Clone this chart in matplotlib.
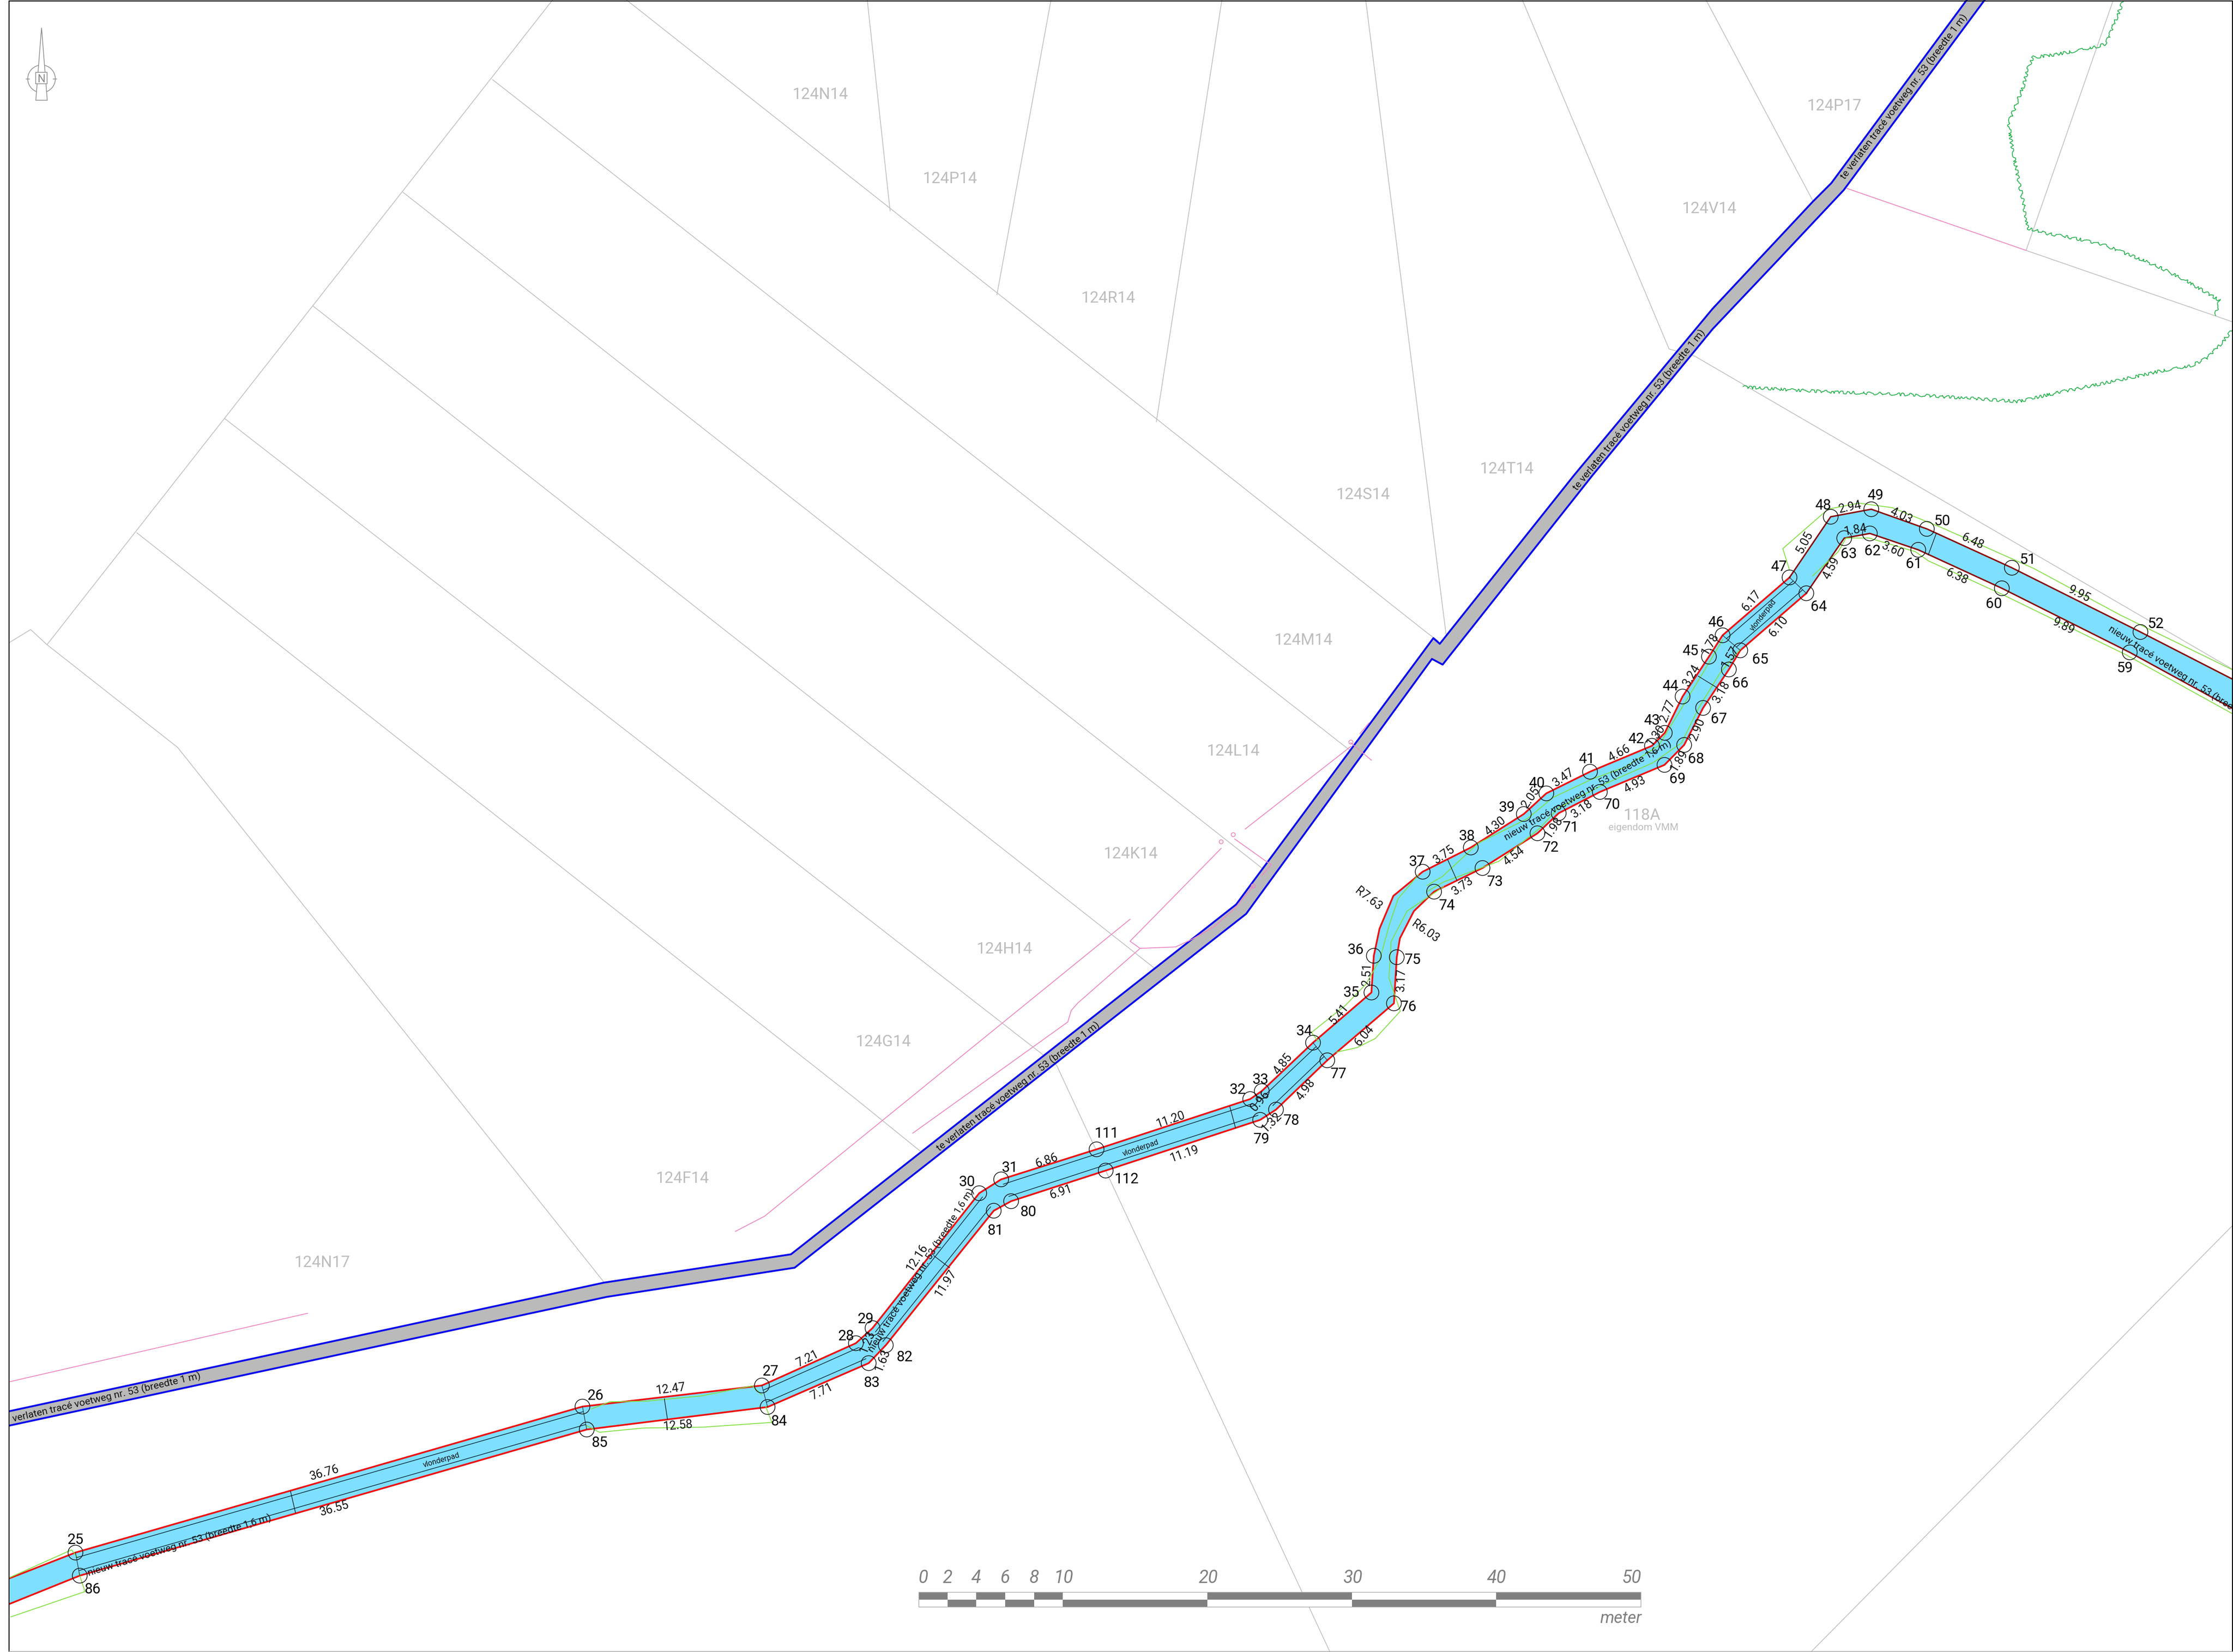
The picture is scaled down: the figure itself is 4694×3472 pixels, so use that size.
import matplotlib
matplotlib.use("Agg")
import matplotlib.pyplot as plt
from matplotlib.patches import Polygon, Circle, Rectangle

plt.rcParams['font.family'] = ['Roboto', 'Noto Sans', 'DejaVu Sans']

W, H = 4694, 3472
K = W / 1568.0

def crop(pts, x0, y0, sx, sy):
    return [((x0 + a / sx) / K, (y0 + b / sy) / K) for a, b in pts]
Z1 = (0, 2700, .784, 2.031)
Z2 = (1800, 1800, 1.045, 1.568)
Z3 = (3000, 1000, .9256, 1.568)
Z6 = (1500, 1450, 1.045, 1.3067)
Z7 = (3600, 0, 1.433, 1.742)
Z5 = (0, 0, 3, 3)

# ---------- new path: node id, x, y ----------
upper_nodes = [('', 6.8, 1108), ('25', 53, 1090), ('26', 409, 987.5), ('27', 535, 972.7), ('28', 601, 943),
               ('29', 612.7, 932.4), ('30', 687.6, 837.7), ('31', 703, 828), ('111', 770, 806.9),
               ('32', 877.9, 771.6), ('33', 886, 766), ('34', 922, 732), ('35', 963, 696.8), ('36', 964.7, 671),
               ('', 968.7, 652), ('', 978.4, 629), ('37', 999, 612), ('38', 1032.8, 595), ('39', 1070, 571.5),
               ('40', 1085.8, 557), ('41', 1116.5, 541.8), ('42', 1160, 523.6), ('43', 1169, 514.5),
               ('44', 1181.5, 489), ('45', 1200, 461), ('46', 1209.6, 446), ('47', 1256.6, 405.4),
               ('48', 1285.5, 362.8), ('49', 1314, 357.5), ('50', 1353, 371.3), ('51', 1412.7, 398.6),
               ('52', 1503, 443.7), ('', 1568, 477)]
lower_nodes = [('', 6.8, 1126), ('86', 56, 1106.2), ('85', 412, 1003.6), ('84', 539, 987.8), ('83', 610, 957),
               ('82', 622, 944.4), ('81', 697.8, 850), ('80', 710, 843.3), ('112', 776.4, 821.8),
               ('79', 884.9, 786.2), ('78', 896, 779), ('77', 932, 744.4), ('76', 978.8, 704.4), ('75', 980.8, 672),
               ('', 983, 658.8), ('', 992.8, 639.7), ('74', 1007, 626), ('73', 1041, 609.4), ('72', 1079.6, 585),
               ('71', 1094.5, 570.9), ('70', 1123.4, 556), ('69', 1168.8, 537), ('68', 1182.6, 523),
               ('67', 1195.9, 497), ('66', 1214, 470), ('65', 1222, 456.6), ('64', 1268.4, 416.5),
               ('63', 1295, 377.8), ('62', 1313, 374.5), ('61', 1347, 386), ('60', 1405.7, 413),
               ('59', 1495.5, 458), ('', 1568, 497.6)]

node_labels = {'25': (53, 1081), '26': (418, 980), '27': (541, 963), '28': (594, 938), '29': (608, 926),
               '30': (679, 830), '31': (709, 820), '111': (777, 796), '32': (869, 765), '33': (885, 758),
               '34': (916, 724), '35': (949, 697), '36': (952, 667), '37': (995, 605), '38': (1030, 587),
               '39': (1058, 567), '40': (1079, 550), '41': (1114, 533), '42': (1149, 519), '43': (1160, 506),
               '44': (1173, 482), '45': (1187, 457), '46': (1205, 437), '47': (1249, 398), '48': (1280, 355),
               '49': (1317, 348), '50': (1364, 366), '51': (1424, 393), '52': (1514, 438), '59': (1492, 469),
               '60': (1400, 424), '61': (1344, 396), '62': (1315, 387), '63': (1298, 389), '64': (1277, 426),
               '65': (1236, 463), '66': (1222, 480), '67': (1207, 505), '68': (1191, 533), '69': (1178, 547),
               '70': (1132, 565), '71': (1103, 581), '72': (1089, 595), '73': (1050, 619), '74': (1016, 636),
               '75': (992, 674), '76': (989, 707), '77': (940, 754), '78': (907, 787), '79': (886, 800),
               '80': (722, 851), '81': (699, 864), '112': (791, 828), '82': (635, 953), '83': (612, 971),
               '84': (547, 998), '85': (421, 1013), '86': (65, 1116)}

walk_sections = [('25', '26', '86', '85'), ('27', '28', '84', '83'), ('29', '30', '82', '81'),
                 ('31', '32', '80', '79'), ('33', '34', '78', '77'), ('46', '47', '65', '64')]
node_ties = [('25', '86'), ('26', '85'), ('27', '84'), ('34', '77'), ('46', '65'), ('47', '64')]
width_ticks = [((204, 1047), (207.5, 1062)), ((466.5, 982), (468.7, 996.5)), ((655.6, 881.5), (666.8, 890)),
               ((863.5, 776.6), (867.6, 792)), ((1016.6, 603.6), (1023, 618)), ((1192.5, 474.7), (1206, 483)),
               ((1359.6, 374.6), (1354, 389.6))]

dim_labels = [('36.76', 228, 1034, 16), ('36.55', 235, 1059, 16), ('12.47', 471, 975, 7), ('12.58', 476, 1001, 5),
              ('7.21', 567, 954, 27), ('7.71', 577, 977, 27), ('1.23', 609, 942, 68), ('1.63', 620, 955, 68),
              ('12.16', 644, 883, 57), ('11.97', 664, 901, 57), ('6.86', 735, 815, 19), ('6.91', 745, 837, 19),
              ('11.20', 822, 786, 19), ('11.19', 832, 810, 19), ('0.96', 885, 773, 50), ('1.32', 893, 788, 45),
              ('4.85', 901, 747, 52), ('4.98', 917, 765, 52), ('5.41', 940, 712, 50), ('6.04', 958, 727, 50),
              ('2.51', 960, 684, 88), ('3.17', 984, 688, 88), ('R7.63', 961, 631, -38), ('R6.03', 1001, 654, -35),
              ('3.75', 1014, 600, 35), ('3.73', 1027, 622, 35), ('4.30', 1050, 580, 38), ('4.54', 1063, 601, 38),
              ('2.05', 1075, 560, 55), ('1.98', 1091, 581, 55), ('3.47', 1098, 546, 35), ('3.18', 1111, 568, 35),
              ('4.66', 1137, 529, 28), ('4.93', 1148, 551, 28), ('1.30', 1163, 516, 55), ('1.89', 1179, 534, 58),
              ('2.77', 1171, 499, 68), ('2.90', 1192, 512, 68), ('3.24', 1188, 474, 60), ('3.18', 1209, 486, 60),
              ('1.78', 1201, 452, 60), ('1.57', 1215, 461, 60), ('6.17', 1230, 422, 50), ('6.10', 1249, 440, 50),
              ('5.05', 1267, 381, 62), ('4.59', 1286, 399, 62), ('2.94', 1299, 356, 12), ('1.84', 1303, 372, 10),
              ('4.03', 1335, 362, -25), ('3.60', 1329, 386, -25), ('6.48', 1385, 380, -25), ('6.38', 1374, 405, -25),
              ('9.95', 1460, 417, -27), ('9.89', 1449, 440, -27)]

# ---------- old track edges ----------
old_top_x = [6.8, 424, 555.4, 868, 1006.5, 1011, 1105, 1202.6, 1273, 1286, 1381]
old_top_y = [990.7, 900.5, 880.6, 635, 448, 452, 334, 216.7, 141.5, 128.5, 0]
old_bot_x = [6.8, 426, 558, 875, 1005.5, 1013, 1118, 1202.6, 1249, 1294.6, 1393.6]
old_bot_y = [1000.8, 910.5, 890, 641.6, 462.6, 466.6, 334, 231, 182, 133.5, 0]

# ---------- cadastre ----------
parcel_lines = [
    [(440, 0), (1003, 445), (1010, 450)], [(346, 56), (952, 530)], [(283, 135), (886.3, 609.6)],
    [(220, 215), (811, 680)], [(158, 294), (742, 748), (934, 1160)], [(96, 374), (601, 771.6), (646, 808)],
    [(6.7, 451), (21.5, 442), (33, 452.6), (124.7, 524.7), (424, 900)], [(33, 452.6), (388, 0)],
    [(609, 0), (625, 148)], [(738, 0), (700, 207)], [(858, 0), (812, 296)], [(959, 0), (1016, 450)],
    [(1069, 0), (1172, 245), (1190, 250), (1568, 470)], [(1198, 0), (1273, 141)],
    [(1483.6, 1), (1422.7, 175.8), (1567.5, 225.9)], [(1567.5, 860.6), (1271.6, 1159.8)],
]
parcel_names = [('124N14', 576, 66.5), ('124P14', 667, 125.5), ('124R14', 778, 209.5), ('124P17', 1288, 74.5),
                ('124V14', 1200, 146.5), ('124S14', 957, 347.5), ('124T14', 1058, 329.5), ('124M14', 915, 449.5),
                ('124L14', 866, 527.5), ('124K14', 794, 599.5), ('124H14', 705, 666.5), ('124G14', 620, 731.5),
                ('124F14', 479, 827.5), ('124N17', 226, 886.5), ('118A', 1153, 572.5)]

# ---------- pink utility lines ----------
pink_lines = [
    [(7, 970), (216, 922)],
    [(516.4, 864.5), (536.8, 853.9), (793.5, 645.4)],
    [(641, 795.5), (749.8, 717.5), (752.2, 709.4), (756.8, 704.2), (800.6, 665.8), (793.5, 660.8), (857.5, 595.6)],
    [(800.6, 665.8), (825.5, 664.8), (836.7, 659.6), (852.7, 650.5), (867, 637.7), (880, 622)],
    [(867, 589), (889.5, 605), (892.7, 607), (886, 614.7)],
    [(874.4, 582), (948.6, 524)], [(948.6, 521.5), (963, 533.7)], [(955, 515), (961.4, 507.4)],
    [(1297, 132.3), (1422.7, 175.8)],
]
pink_marks = [(866, 586), (857.5, 591), (880, 622), (948.6, 521)]

# ---------- green lines (crop readings) ----------
hedge_a = [(1237, 5), (1225, 40), (1215, 70), (1200, 115), (1185, 160), (1155, 172), (1090, 187), (1030, 200),
           (965, 210), (950, 250), (935, 320), (915, 380), (892, 450), (900, 520), (912, 600), (925, 680),
           (938, 750), (948, 835), (1000, 853), (1080, 870), (1170, 893), (1250, 930), (1340, 975), (1430, 1030),
           (1528, 1100), (1515, 1155)]
hedge_b = [(1565, 1210), (1530, 1260), (1490, 1310), (1440, 1340), (1350, 1358), (1250, 1385), (1150, 1410),
           (1050, 1435), (920, 1470), (800, 1460), (600, 1445), (400, 1437), (200, 1425), (92, 1417)]
green_z1 = [[(16, 1250), (118, 1132), (128, 1165)], [(18, 1418), (140, 1310), (130, 1230)],
            [(965, 600), (988, 630), (1060, 612), (1160, 608), (1272, 588), (1262, 520)],
            [(975, 530), (1005, 500), (1065, 497), (1155, 475), (1240, 432), (1255, 470)]]
green_z3 = [[(705, 310), (692, 240), (780, 110), (840, 90), (905, 105), (1000, 170), (1140, 275), (1180, 305),
             (1350, 460), (1568, 640)],
            [(750, 330), (800, 250), (815, 205), (860, 205), (950, 250), (975, 280), (1118, 390), (1360, 590),
             (1568, 785)],
            [(575, 540), (540, 640), (490, 780), (450, 890), (385, 960), (320, 1000), (245, 1060), (195, 1130),
             (100, 1210), (30, 1320), (0, 1350)],
            [(610, 570), (570, 650), (530, 760), (495, 880), (440, 945), (340, 1020), (255, 1095), (220, 1160),
             (140, 1270), (30, 1340), (0, 1370)]]
green_z2 = [[(1235, 60), (1190, 140), (1170, 230), (1150, 340), (1120, 420), (1075, 490), (1000, 580), (1015, 610)],
            [(1290, 100), (1210, 180), (1175, 280), (1170, 400), (1195, 510), (1140, 600), (1100, 630), (1055, 645)]]

# ---------- scale bar ----------
scale_ticks = [0, 2, 4, 6, 8, 10, 20, 30, 40, 50]
scale_label_shift = [3, 0, 0, 0, 0, .5, .5, .5, .5, -6]

fig = plt.figure(figsize=(W / 100, H / 100), dpi=100, facecolor='white')
ax = fig.add_axes([0, 0, 1, 1])
ax.set_xlim(0, 1568)
ax.set_ylim(H / K, 0)
ax.axis('off')

def line(pts, **kw):
    xs, ys = zip(*pts)
    return ax.plot(xs, ys, solid_joinstyle='round', **kw)[0]

GRAY = '#c0c0c0'
for p in parcel_lines:
    line(p, color=GRAY, lw=1.2, zorder=1)
for name, x, y in parcel_names:
    ax.text(x, y, name, color='#bdbdbd', fontsize=24, ha='center', va='center', zorder=2)
ax.text(1154, 581, 'eigendom VMM', color='#bdbdbd', fontsize=15, ha='center', va='center', zorder=2)

# old track
top = list(zip(old_top_x, old_top_y))
bot = list(zip(old_bot_x, old_bot_y))
ax.add_patch(Polygon(top + bot[::-1], closed=True, fc='#bababa', ec='none', zorder=3))
line(top, color='#0a0aee', lw=2.8, zorder=4)
line(bot, color='#0a0aee', lw=2.8, zorder=4)

for p in pink_lines:
    line(p, color='#ee88c0', lw=1.3, zorder=5)
for x, y in pink_marks:
    ax.add_patch(Circle((x, y), 1.4, fc='none', ec='#ee80b8', lw=1.1, zorder=5))

# new path
U = [(x, y) for _, x, y in upper_nodes]
L = [(x, y) for _, x, y in lower_nodes]
ax.add_patch(Polygon(U + L[::-1], closed=True, fc='#7fdfff', ec='none', zorder=6))
nd = {n: (x, y) for n, x, y in upper_nodes + lower_nodes if n}
split_u = [i for i, r in enumerate(upper_nodes) if r[0] == '47'][0]
split_l = [i for i, r in enumerate(lower_nodes) if r[0] == '64'][0]
line(U[:split_u + 1], color='#f01010', lw=2.6, zorder=7)
line(L[:split_l + 1], color='#f01010', lw=2.6, zorder=7)
line(U[split_u:], color='#8a0c0c', lw=2.2, zorder=7)
line(L[split_l:], color='#8a0c0c', lw=2.2, zorder=7)

GREEN = '#80e040'
for p in green_z1:
    line(crop(p, *Z1), color=GREEN, lw=1.3, zorder=8)
for p in green_z2:
    line(crop(p, *Z2), color=GREEN, lw=1.3, zorder=8)
for p in green_z3:
    line(crop(p, *Z3), color=GREEN, lw=1.3, zorder=8)
for h in (hedge_a, hedge_b):
    l = line(crop(h, *Z7), color='#22b04a', lw=1.2, zorder=2)
    l.set_sketch_params(scale=3, length=40, randomness=0)

f = 0.22
for a, b, c, d in walk_sections:
    A, B, C, D = nd[a], nd[b], nd[c], nd[d]
    for P, Q in ((A, C), (C, A)):
        R, S = (B, D) if P is A else (D, B)
        line([(P[0] + f * (Q[0] - P[0]), P[1] + f * (Q[1] - P[1])),
              (R[0] + f * (S[0] - R[0]), R[1] + f * (S[1] - R[1]))], color='#103040', lw=1.1, zorder=8)
for a, b in node_ties:
    line([nd[a], nd[b]], color='#203040', lw=0.9, zorder=8)
for p, q in width_ticks:
    line([p, q], color='#101820', lw=1.0, zorder=8)

for n, (x, y) in nd.items():
    ax.add_patch(Circle((x, y), 5.2, fc='none', ec='#101010', lw=1.1, zorder=9))
    tx, ty = node_labels[n]
    ax.text(tx, ty, n, fontsize=22, color='black', ha='center', va='center', zorder=11)

for t, x, y, r in dim_labels:
    ax.text(x, y, t, fontsize=18, rotation=r, rotation_mode='anchor', color='#101010',
            ha='center', va='center', zorder=10)

NEW = 'nieuw tracé voetweg nr. 53 (breedte 1,6 m)'
OLD = 'verlaten tracé voetweg nr. 53 (breedte 1 m)'
OLD2 = 'te verlaten tracé voetweg nr. 53 (breedte 1 m)'
for t, x, y, r, ha in [(OLD, 75, 981, 13, 'center'), (OLD2, 715, 763, 38, 'center'),
                       (OLD2, 1151, 288, 51, 'center'), (OLD2, 1337, 68, 53, 'center'),
                       (NEW, 126, 1085, 17, 'center'), (NEW, 647, 892, 58, 'center'),
                       (NEW, 1115, 555, 30, 'center'), (NEW, 1481, 441, -33, 'left')]:
    ax.text(x, y, t, fontsize=15.3, rotation=r, rotation_mode='anchor', color='#101010',
            ha=ha, va='center', zorder=10, clip_on=True)
for x, y, r in [(310, 1025, 16), (801, 806, 19), (1238, 432, 52)]:
    ax.text(x, y, 'vlonderpad', fontsize=11.5, rotation=r, rotation_mode='anchor', color='#101010',
            ha='center', va='center', zorder=10)

# scale bar
GB = '#808080'
sx = lambda v: 645 + 10.14 * v
for i, (a, b) in enumerate(zip(scale_ticks[:-1], scale_ticks[1:])):
    ax.add_patch(Rectangle((sx(a), 1117.7), sx(b) - sx(a), 5.3, fc=GB if i % 2 == 0 else 'white', ec='none', zorder=3))
    ax.add_patch(Rectangle((sx(a), 1123), sx(b) - sx(a), 5.2, fc='white' if i % 2 == 0 else GB, ec='none', zorder=3))
ax.add_patch(Rectangle((sx(0), 1117.7), sx(50) - sx(0), 10.5, fc='none', ec='#a8a8a8', lw=1.0, zorder=3))
for v, dx in zip(scale_ticks, scale_label_shift):
    ax.text(sx(v) + dx, 1108, str(v), fontsize=27, style='italic', color=GB, ha='center', va='center', zorder=3)
ax.text(1152.8, 1136, 'meter', fontsize=25, style='italic', color=GB, ha='right', va='center', zorder=3)

# north arrow
NC = '#8c8c8c'
c = crop([(262, 497)], *Z5)[0]
ax.add_patch(Circle(c, 87 / 3 / K, fc='none', ec=NC, lw=1.1, zorder=3))
ax.add_patch(Polygon(crop([(262, 175), (226, 632), (298, 632)], *Z5), closed=True, fc='white', ec=NC, lw=1.1, zorder=3))
ax.add_patch(Polygon(crop([(224, 457), (296, 457), (296, 528), (224, 528)], *Z5), closed=True, fc='white', ec=NC, lw=1.1, zorder=3))
ax.text(c[0], c[1] + .3, 'N', fontsize=17, color=NC, ha='center', va='center', zorder=4)
line(crop([(165, 497), (187, 497)], *Z5), color=NC, lw=1.1, zorder=3)
line(crop([(337, 497), (358, 497)], *Z5), color=NC, lw=1.1, zorder=3)

# frame
xl, xr, yt, yb = 6.5, 1567.5, 0.6, H / K - 0.3
line([(xl, yb), (xl, yt), (xr, yt), (xr, yb)], color='black', lw=1.6, zorder=20)
line([(xl, yb), (xr, yb)], color='#b0b0b0', lw=1.2, zorder=20)

fig.savefig('out.png', dpi=100, facecolor='white')
